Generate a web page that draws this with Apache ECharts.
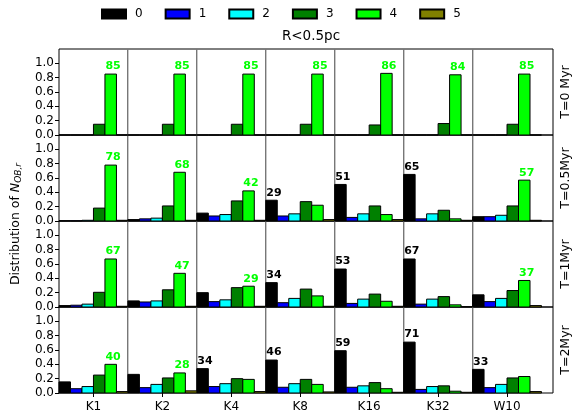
<!DOCTYPE html>
<html><head><meta charset="utf-8">
<script src="https://cdn.jsdelivr.net/npm/echarts@6/dist/echarts.min.js"></script>
<style>html,body{margin:0;padding:0;background:#fff}#c{width:572px;height:413px}</style>
</head><body><div id="c"></div>
<script>
const categories = ['K1','K2','K4','K8','K16','K32','W10'];
const classes = ['0','1','2','3','4','5'];
const classColors = ['#000000','#0000ff','#00ffff','#008000','#00ff00','#808000'];
const rowLabels = ['T=0 Myr','T=0.5Myr','T=1Myr','T=2Myr'];
const yTicks = [0,0.2,0.4,0.6,0.8,1.0];

// each row: per category, fractions for N = 0..5
const distT0 = [
  [0,0,0,0.15,0.85,0],
  [0,0,0,0.15,0.85,0],
  [0,0,0,0.15,0.85,0],
  [0,0,0,0.15,0.85,0],
  [0,0,0,0.14,0.86,0],
  [0,0,0,0.16,0.84,0],
  [0,0,0,0.15,0.85,0]
];
const distT05 = [
  [0.003,0.003,0.01,0.18,0.78,0.01],
  [0.02,0.03,0.04,0.21,0.68,0.01],
  [0.11,0.07,0.09,0.28,0.42,0.01],
  [0.29,0.07,0.10,0.27,0.22,0.02],
  [0.51,0.05,0.10,0.21,0.09,0.02],
  [0.65,0.03,0.10,0.15,0.03,0.01],
  [0.06,0.06,0.08,0.21,0.57,0.01]
];
const distT1 = [
  [0.02,0.025,0.04,0.205,0.67,0.01],
  [0.085,0.07,0.085,0.24,0.47,0.01],
  [0.20,0.075,0.10,0.27,0.29,0.01],
  [0.34,0.06,0.12,0.25,0.155,0.01],
  [0.53,0.05,0.11,0.18,0.08,0.01],
  [0.67,0.04,0.11,0.145,0.03,0.005],
  [0.17,0.075,0.12,0.23,0.37,0.02]
];
const distT2 = [
  [0.155,0.06,0.09,0.25,0.40,0.02],
  [0.26,0.075,0.12,0.21,0.28,0.03],
  [0.34,0.09,0.13,0.20,0.19,0.02],
  [0.46,0.08,0.13,0.19,0.12,0.015],
  [0.59,0.08,0.10,0.145,0.06,0.01],
  [0.71,0.05,0.09,0.10,0.025,0.01],
  [0.33,0.075,0.12,0.21,0.23,0.02]
];
const rows = [distT0, distT05, distT1, distT2];

const gridLeft = 59, gridWidth = 494, gridTop = 49, rowH = 86;
const FONT = 'DejaVu Sans';
const Y_MAX = 1.2;

const grids = [], xAxes = [], yAxes = [], series = [];
rows.forEach((dist, r) => {
  grids.push({left: gridLeft, top: gridTop + r*rowH, width: gridWidth, height: rowH,
    show: true, borderColor: '#000', borderWidth: 1, backgroundColor: 'transparent'});
  const bottom = r === rows.length - 1;
  xAxes.push({type: 'value', gridIndex: r, min: -0.5, max: 6.667, position: 'bottom',
    axisLine: {show: false, onZero: false}, splitLine: {show: false},
    axisTick: {show: bottom, customValues: categories.map((c,i)=>i), length: 4, lineStyle: {color: '#000'}},
    axisLabel: {show: bottom, customValues: categories.map((c,i)=>i), formatter: v => categories[Math.round(v)] || '',
      fontFamily: FONT, fontSize: 12, color: '#000', margin: 8}
  });
  yAxes.push({type: 'value', gridIndex: r, min: 0, max: Y_MAX, position: 'left',
    axisLine: {show: false, onZero: false}, splitLine: {show: false},
    axisTick: {show: true, customValues: yTicks, length: 4, lineStyle: {color: '#000'}},
    axisLabel: {show: true, customValues: yTicks, formatter: v => v.toFixed(1),
      fontFamily: FONT, fontSize: 12, color: '#000', margin: 5}
  });
  classes.forEach((cls, s) => {
    const data = dist.map((vals, i) => {
      const mx = Math.max(...vals);
      return [i, vals[s], vals[s] === mx ? 1 : 0];
    });
    const color = classColors[s];
    series.push({
      type: 'custom', name: cls, xAxisIndex: r, yAxisIndex: r, z: 2,
      itemStyle: {color: color, borderColor: '#000', borderWidth: 0.8},
      encode: {x: 0, y: 1},
      data: data,
      animation: false,
      renderItem: (params, api) => {
        const i = api.value(0), v = api.value(1), isMax = api.value(2);
        const p0 = api.coord([i - 0.5 + s/6, 0]);
        const p1 = api.coord([i - 0.5 + (s+1)/6, v]);
        const children = [];
        if (s === 0 && i > 0) {
          // gray separator at the left edge of this category column
          const top = api.coord([i - 0.5, Y_MAX]);
          children.push({type: 'rect', z2: 0, shape: {x: Math.round(p0[0]) - 1, y: top[1], width: 1.4, height: p0[1] - top[1]},
            style: {fill: '#777777'}});
        }
        children.push({type: 'rect', z2: 1, shape: {x: p0[0], y: p1[1], width: p1[0]-p0[0], height: p0[1]-p1[1]},
          style: {fill: color, stroke: '#000', lineWidth: 1}});
        if (isMax) {
          children.push({type: 'text', x: p0[0] + 0.5, y: p1[1] - 2, z2: 10,
            style: {text: String(Math.round(v*100)), fill: color, font: 'bold 11px "DejaVu Sans"',
              textAlign: 'left', textVerticalAlign: 'bottom'}});
        }
        return {type: 'group', children: children};
      }
    });
  });
});

const graphics = rowLabels.map((t, r) => ({
  type: 'text', x: 566, y: gridTop + r*rowH + rowH/2, rotation: Math.PI/2,
  style: {text: t, font: '12.5px "DejaVu Sans"', fill: '#000', textAlign: 'center', textVerticalAlign: 'middle'}
}));
graphics.push({
  type: 'text', x: 16, y: gridTop + 2*rowH + 3, rotation: Math.PI/2,
  style: {text: '{a|Distribution of }{n|N}{s|OB,r}', textAlign: 'center', textVerticalAlign: 'middle',
    rich: {a: {fontFamily: FONT, fontSize: 12.5, fill: '#000'},
      n: {fontFamily: FONT, fontSize: 12.5, fontStyle: 'italic', fill: '#000'},
      s: {fontFamily: FONT, fontSize: 9, fontStyle: 'italic', fill: '#000', padding: [6,0,0,0]}}}
});

const chart = echarts.init(document.getElementById('c'));
chart.setOption({
  animation: false,
  title: {text: 'R<0.5pc', left: 306, top: 24, textAlign: 'center',
    textStyle: {fontFamily: FONT, fontSize: 13.5, fontWeight: 'normal', color: '#000'}},
  legend: {data: classes, top: 3, left: 96, itemWidth: 24, itemHeight: 9, itemGap: 22, icon: 'rect',
    textStyle: {fontFamily: FONT, fontSize: 12, color: '#000', padding: [0,0,0,4]}},
  grid: grids, xAxis: xAxes, yAxis: yAxes, series: series, graphic: graphics
});
</script></body></html>
